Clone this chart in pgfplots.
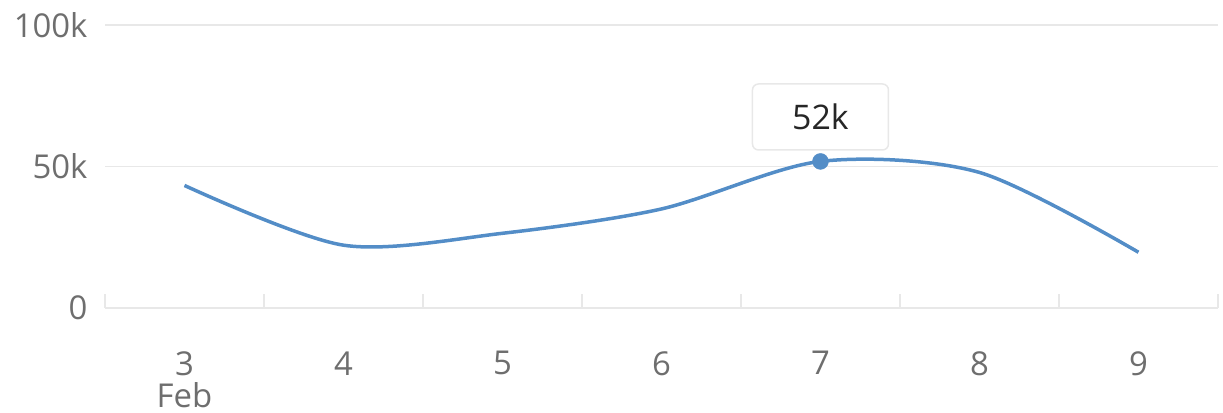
\documentclass[border=0pt]{standalone}
\usepackage{fontspec}
\setmainfont{Open Sans}
\usepackage{pgfplots}
\pgfplotsset{compat=1.18}

\definecolor{lineblue}{RGB}{83,141,199}
\definecolor{gridgray}{RGB}{232,232,232}
\definecolor{ticktext}{RGB}{110,110,110}

\begin{document}
\begin{tikzpicture}
\useasboundingbox (-105bp,-105bp) rectangle (1118bp,308bp);
\begin{axis}[
  scale only axis,
  width=1113bp, height=283bp,
  xmin=2.5, xmax=9.5,
  ymin=0, ymax=100000,
  scaled y ticks=false,
  axis x line*=bottom,
  axis y line*=left,
  x axis line style={draw=gridgray, line width=1.5bp, -},
  y axis line style={draw=none},
  xtick={3,4,5,6,7,8,9},
  xticklabels={{3\\Feb},4,5,6,7,8,9},
  major x tick style={draw=none},
  minor xtick={2.5,3.5,4.5,5.5,6.5,7.5,8.5,9.5},
  minor x tick style={draw=gridgray, line width=1.5bp},
  minor tick length=14bp,
  xticklabel style={align=center, text=ticktext,
    font=\fontsize{33}{32}\selectfont, yshift=-40bp},
  ytick={0,50000,100000},
  yticklabels={0,50k,100k},
  major y tick style={draw=none},
  ymajorgrids,
  major grid style={draw=gridgray, line width=1.5bp},
  yticklabel style={text=ticktext, font=\fontsize{33}{40}\selectfont, xshift=-14bp},
  clip=false,
]
\addplot[lineblue, line width=3.5bp, smooth, tension=0.5] coordinates {
  (3,43300) (4,22200) (5,26400) (6,35000) (7,51800) (8,47900) (9,19700)
};
\addplot[only marks, mark=*, mark size=8bp, color=lineblue, fill=lineblue] coordinates {(7,51800)};
\node[draw=gridgray, line width=1.5bp, fill=white, rounded corners=6bp,
  minimum width=136bp, minimum height=66bp, text=black!85,
  font=\fontsize{34}{40}\selectfont] at (axis cs:7,67500) {52k};
\end{axis}
\end{tikzpicture}
\end{document}
